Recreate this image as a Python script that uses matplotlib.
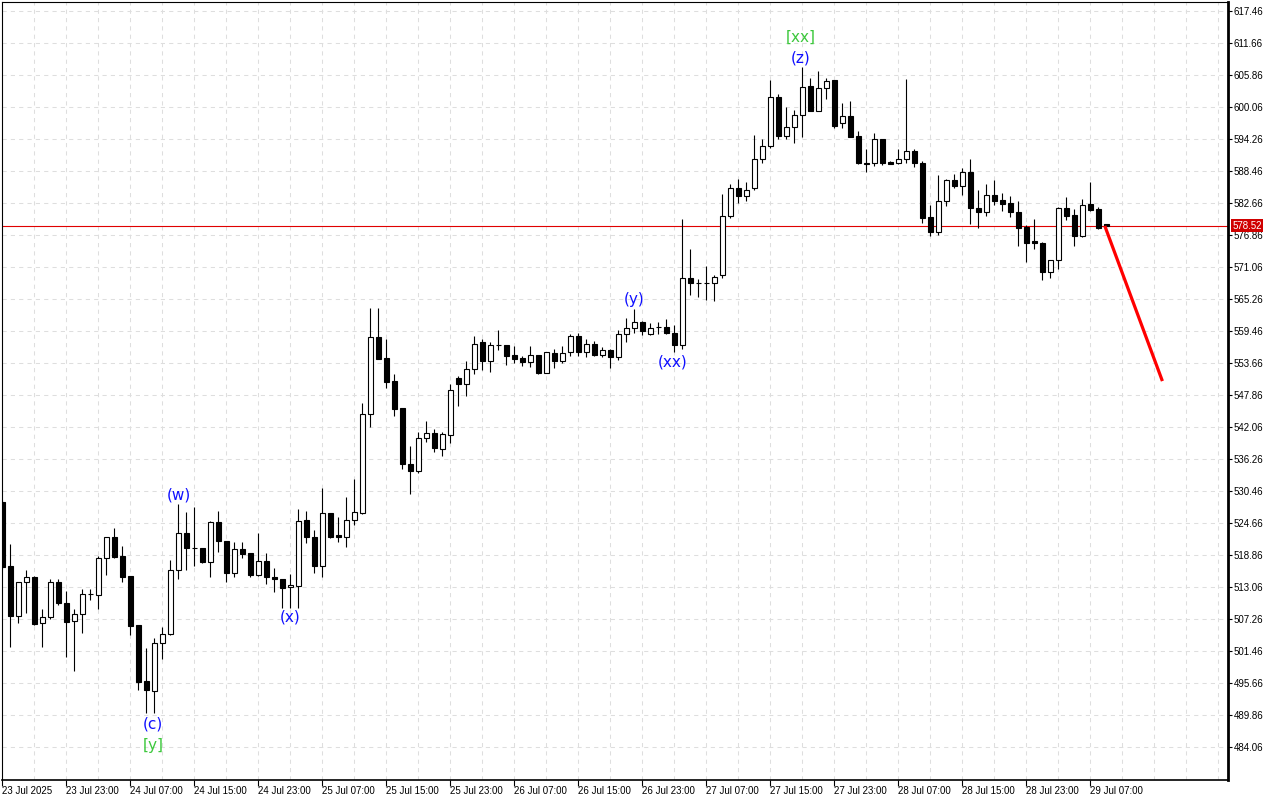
import matplotlib
matplotlib.use("Agg")
import matplotlib.pyplot as plt
import matplotlib.transforms as mtransforms
import numpy as np
import pandas as pd

# hourly candles, 23 Jul 2025 15:00 onwards
start = "2025-07-23 15:00"
opens = [528.5, 516.9, 507.9, 513.9, 514.8, 506.5, 507.7, 513.9, 510.2, 507.0,
         508.1, 511.8, 511.7, 518.3, 522.2, 518.7, 515.1, 506.2, 496.0, 494.2,
         503.0, 504.5, 516.1, 522.9, 520.1, 520.1, 517.6, 524.8, 521.5, 515.7,
         519.9, 519.2, 515.2, 517.8, 514.9, 514.5, 513.0, 513.3, 525.2, 522.2,
         516.9, 526.4, 522.5, 522.2, 525.2, 526.5, 544.5, 558.3, 554.6, 550.4,
         545.6, 535.3, 534.1, 540.0, 540.9, 538.0, 540.7, 550.9, 549.8, 552.5,
         557.4, 554.1, 556.9, 556.9, 555.1, 554.6, 553.8, 555.1, 551.9, 555.5,
         554.0, 555.6, 558.6, 555.7, 557.2, 555.1, 556.1, 554.8, 559.0, 560.1,
         561.1, 559.0, 560.2, 560.2, 559.2, 557.0, 569.0, 568.1, 568.1, 568.1,
         569.6, 580.3, 585.3, 584.0, 585.3, 590.6, 593.0, 601.9, 594.9, 596.4,
         598.7, 603.9, 599.4, 603.6, 605.0, 597.1, 598.4, 594.8, 589.9, 589.9,
         594.2, 590.1, 589.9, 590.6, 592.1, 589.9, 580.1, 577.5, 583.1, 586.8,
         585.8, 588.2, 581.7, 581.1, 584.1, 583.2, 582.7, 581.0, 578.4, 575.8,
         575.5, 570.1, 572.3, 581.7, 580.5, 576.7, 582.5, 581.6, 578.8]
highs = [528.8, 520.9, 513.9, 516.1, 515.0, 509.1, 514.5, 514.5, 512.3, 509.1,
         512.7, 512.8, 518.7, 522.1, 523.8, 520.5, 515.1, 506.2, 502.1, 503.8,
         505.8, 518.0, 528.1, 526.7, 527.6, 520.1, 525.1, 526.8, 521.5, 521.3,
         521.2, 519.2, 522.8, 519.3, 516.5, 514.5, 515.5, 527.2, 526.9, 523.4,
         531.0, 526.4, 525.8, 529.4, 532.6, 546.4, 563.6, 563.6, 558.1, 551.6,
         545.6, 538.6, 541.1, 543.1, 541.8, 541.1, 549.8, 551.3, 554.0, 558.6,
         558.0, 557.5, 559.6, 557.0, 556.7, 554.9, 556.7, 555.2, 555.7, 556.3,
         556.8, 559.0, 559.2, 558.0, 557.6, 556.6, 556.3, 559.6, 561.8, 563.4,
         561.2, 561.0, 561.1, 561.6, 560.5, 579.8, 574.3, 568.9, 571.2, 569.6,
         584.3, 586.1, 587.0, 586.4, 595.0, 594.3, 605.0, 602.5, 600.0, 599.5,
         607.3, 605.3, 606.6, 605.4, 605.0, 600.8, 601.1, 595.7, 592.4, 595.4,
         594.3, 590.2, 592.4, 605.1, 592.4, 590.3, 582.4, 587.7, 587.1, 587.9,
         589.1, 590.6, 585.1, 586.2, 586.8, 584.5, 583.9, 583.0, 578.7, 579.7,
         575.6, 572.3, 582.0, 583.7, 581.5, 583.4, 586.4, 581.9, 578.9]
lows = [516.4, 502.2, 506.5, 508.4, 506.2, 502.2, 507.2, 509.9, 500.4, 497.8,
        504.8, 510.8, 509.1, 515.2, 518.3, 514.0, 504.4, 494.5, 490.2, 490.2,
        500.1, 504.4, 514.6, 516.1, 516.9, 517.4, 514.9, 519.5, 514.0, 514.8,
        518.3, 514.9, 515.1, 513.7, 512.2, 509.2, 509.3, 509.2, 521.0, 515.7,
        514.9, 521.9, 521.3, 520.4, 524.3, 526.3, 542.0, 554.4, 549.2, 544.1,
        534.5, 529.9, 533.8, 539.4, 537.6, 536.9, 539.2, 545.9, 547.7, 551.6,
        552.4, 552.0, 556.1, 553.4, 553.7, 553.2, 553.0, 551.6, 551.8, 552.8,
        553.6, 555.0, 554.9, 554.7, 554.9, 554.8, 552.7, 554.2, 557.4, 559.2,
        558.7, 558.7, 559.0, 559.0, 555.7, 556.3, 566.0, 565.6, 565.1, 565.0,
        569.0, 579.9, 582.6, 583.1, 585.1, 590.0, 592.7, 594.3, 594.3, 593.5,
        594.7, 599.4, 599.3, 601.6, 596.2, 596.3, 594.7, 589.7, 588.2, 589.4,
        589.5, 589.7, 589.7, 589.9, 589.2, 579.0, 576.7, 576.9, 582.2, 585.4,
        584.1, 578.9, 578.2, 580.3, 582.3, 581.2, 580.2, 574.9, 572.0, 574.3,
        568.7, 569.1, 570.8, 579.6, 574.9, 576.6, 581.3, 578.0, 578.4]
closes = [516.7, 507.9, 513.9, 514.8, 506.4, 507.7, 513.9, 510.2, 506.8, 508.1,
          511.9, 511.9, 518.3, 522.1, 518.6, 514.9, 506.0, 495.9, 494.4, 503.0,
          504.5, 516.1, 522.8, 520.1, 520.1, 517.6, 524.8, 521.5, 515.7, 519.9,
          519.1, 515.2, 517.8, 514.8, 514.5, 512.9, 513.4, 525.0, 522.2, 516.9,
          526.4, 522.1, 522.2, 525.2, 526.6, 544.4, 558.3, 554.4, 550.3, 545.3,
          535.3, 534.1, 540.0, 540.9, 538.2, 540.8, 548.8, 549.8, 552.5, 557.2,
          554.1, 556.9, 556.9, 555.0, 554.4, 553.8, 555.1, 551.9, 555.6, 554.1,
          555.5, 558.6, 555.7, 557.2, 555.1, 556.1, 554.8, 558.9, 560.1, 561.1,
          559.5, 560.1, 560.2, 559.2, 557.0, 569.0, 568.1, 568.1, 568.1, 569.3,
          580.3, 585.3, 584.0, 585.1, 590.6, 593.0, 601.9, 594.9, 596.4, 598.7,
          603.7, 599.4, 603.6, 604.8, 596.6, 598.4, 594.7, 589.9, 589.8, 594.2,
          590.0, 589.7, 590.6, 592.1, 589.9, 580.0, 577.5, 583.1, 586.8, 585.7,
          588.2, 581.8, 581.1, 584.1, 583.1, 582.5, 581.0, 578.2, 575.5, 575.5,
          570.1, 572.3, 581.7, 580.3, 576.7, 582.4, 581.4, 578.1, 578.52]

price_ticks = [617.46 - 5.8 * i for i in range(24)]
last_price = 578.52
forecast_x = [137.8, 145.0]
forecast_y = [578.52, 550.4]

# wave labels: (text, bar, price, colour)
wave_labels = [("(w)", 22.0, 529.7, "#1010ff"),
               ("(x)", 36.0, 507.6, "#1010ff"),
               ("(c)", 18.8, 488.3, "#1010ff"),
               ("[y]", 18.8, 484.4, "#3cc83c"),
               ("(y)", 79.0, 565.1, "#1010ff"),
               ("(xx)", 83.8, 553.8, "#1010ff"),
               ("(z)", 99.8, 608.9, "#1010ff"),
               ("[xx]", 99.8, 612.7, "#3cc83c")]

df = pd.DataFrame({"open": opens, "high": highs, "low": lows, "close": closes},
                  index=pd.date_range(start, periods=len(opens), freq="h"))
x = np.arange(len(df))

fig = plt.figure(figsize=(12.8, 8), dpi=100)
ax = fig.add_axes([2 / 1280, 20 / 800, 1226 / 1280, 778 / 800])

ax.set_xlim(-0.05, 153.2)
ax.set_ylim(478.1, 619.1)

# grid
for gx in range(4, 154, 4):
    ax.axvline(gx, color="#dedede", lw=0.75, ls=(0, (4, 4)), zorder=0)
for gy in price_ticks:
    ax.axhline(gy, color="#dedede", lw=0.75, ls=(0, (4, 4)), zorder=0)

# candles
up = (df["close"] >= df["open"]).values
ax.vlines(x, df["low"], df["high"], color="black", lw=0.8, zorder=2)
body_lo = np.minimum(df["open"], df["close"]).values
body_h = np.abs(df["close"] - df["open"]).values
ax.bar(x[up], body_h[up], bottom=body_lo[up], width=0.55, color="white",
       edgecolor="black", lw=0.8, zorder=3)
ax.bar(x[~up], body_h[~up], bottom=body_lo[~up], width=0.55, color="black",
       edgecolor="black", lw=0.8, zorder=3)

# last price line and forecast arrow
ax.axhline(last_price, color="#e00000", lw=0.8, zorder=1)
ax.plot(forecast_x, forecast_y, color="#ff0000", lw=2.3, solid_capstyle="butt", zorder=4)

for txt, bx, by, col in wave_labels:
    ax.text(bx, by, txt, color=col, fontsize=11, ha="center", va="center",
            family="DejaVu Sans")

# axes styling
for s in ["top", "left"]:
    ax.spines[s].set_linewidth(0.8)
ax.spines["right"].set_linewidth(2)
ax.spines["bottom"].set_linewidth(1.2)

ax.yaxis.tick_right()
ax.set_yticks(price_ticks)
ax.set_yticklabels([f"{v:.2f}" for v in price_ticks])
ax.tick_params(axis="y", direction="out", length=3, width=0.8, pad=1,
               labelsize=7, labelfontfamily="Liberation Sans")

xt = list(range(0, 137, 8))
xl = []
for k in xt:
    t = df.index[k]
    xl.append("23 Jul 2025" if k == 0 else t.strftime("%d %b %H:%M"))
ax.set_xticks(xt)
ax.set_xticklabels(xl, ha="left")
ax.tick_params(axis="x", direction="out", length=4, width=0.8, pad=0.5,
               labelsize=7, labelfontfamily="Liberation Sans")

# price tag on the right axis
trans = mtransforms.blended_transform_factory(ax.transAxes, ax.transData)
ax.text(1.0035, last_price, "578.52", transform=trans, color="white",
        fontsize=7, family="Liberation Sans", ha="left", va="center",
        bbox=dict(boxstyle="square,pad=0.15", fc="#d00000", ec="none"), zorder=5)

fig.savefig("out.png", dpi=100, facecolor="white")
